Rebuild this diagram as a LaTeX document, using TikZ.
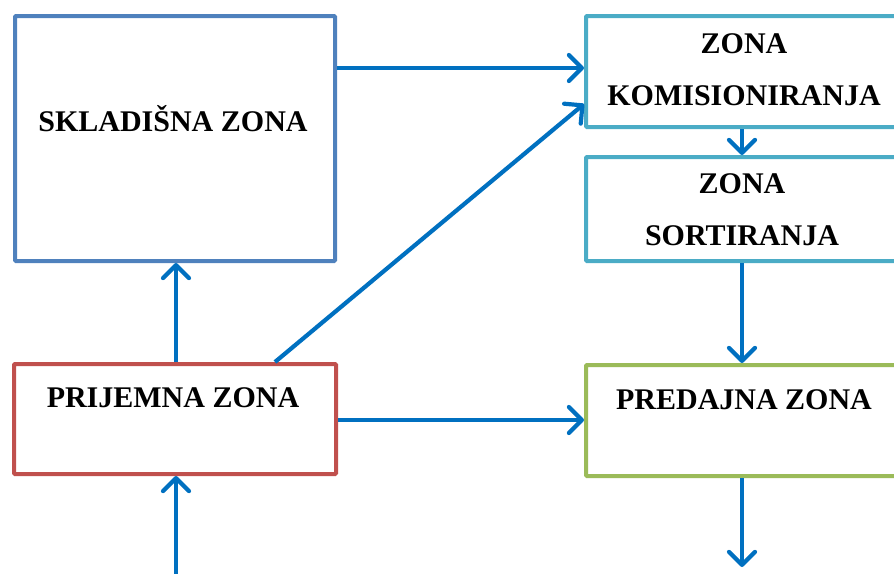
\documentclass[tikz,border=0pt]{standalone}
\usepackage{fontspec}
\setmainfont{Liberation Serif}
\usetikzlibrary{arrows.meta}
\definecolor{cblue}{HTML}{4F81BD}
\definecolor{cred}{HTML}{C0504D}
\definecolor{cteal}{HTML}{4BACC6}
\definecolor{cgreen}{HTML}{9BBB59}
\definecolor{carrow}{HTML}{0070C0}
\tikzset{
  zonebox/.style={draw, line width=4pt, rounded corners=1pt, inner sep=0pt, anchor=north west},
  zonetext/.style={font=\bfseries\fontsize{30}{52}\selectfont, align=center, inner sep=0pt},
  flow/.style={draw=carrow, line width=4.2pt, -{Straight Barb[length=13pt,width=26pt,line cap=round,line join=round]}}
}
\begin{document}
\begin{tikzpicture}[x=1pt,y=-1pt]
\useasboundingbox (0,0) rectangle (894,573);
\clip (0,0) rectangle (894,573);
% boxes
\node[zonebox, draw=cblue, minimum width=320pt, minimum height=245pt] (skl) at (13,14) {};
\node[zonebox, draw=cred, minimum width=322pt, minimum height=110pt] (pri) at (12,362) {};
\node[zonebox, draw=cteal, minimum width=316pt, minimum height=111pt] (kom) at (584,14) {};
\node[zonebox, draw=cteal, minimum width=316pt, minimum height=104pt] (sor) at (584,155) {};
\node[zonebox, draw=cgreen, minimum width=316pt, minimum height=111pt] (pre) at (584,363) {};
% texts
\node[zonetext] (tskl) at (173,119) {SKLADIŠNA ZONA};
\node[zonetext] (tpri) at (173,398) {PRIJEMNA ZONA};
\node[zonetext] (tkom) at (744,70) {ZONA\\KOMISIONIRANJA};
\node[zonetext] (tsor) at (742,210) {ZONA\\SORTIRANJA};
\node[zonetext] (tpre) at (744,400) {PREDAJNA ZONA};
% free ends
\coordinate (inpri) at (176,575);
\coordinate (outpre) at (742,567);
% connectors
\draw[flow] (skl.east |- 0,68) -- (kom.west |- 0,68);
\draw[flow] (pri.north -| 176,0) -- (skl.south -| 176,0);
\draw[flow] (pri.north -| 275,0) -- (kom.west |- 0,104);
\draw[flow] (pri.east |- 0,420) -- (pre.west |- 0,420);
\draw[flow] (kom.south -| 742,0) -- (sor.north -| 742,0);
\draw[flow] (sor.south -| 742,0) -- (pre.north -| 742,0);
\draw[flow] (pre.south -| 742,0) -- (outpre);
\draw[flow] (inpri) -- (pri.south -| 176,0);
\end{tikzpicture}
\end{document}
